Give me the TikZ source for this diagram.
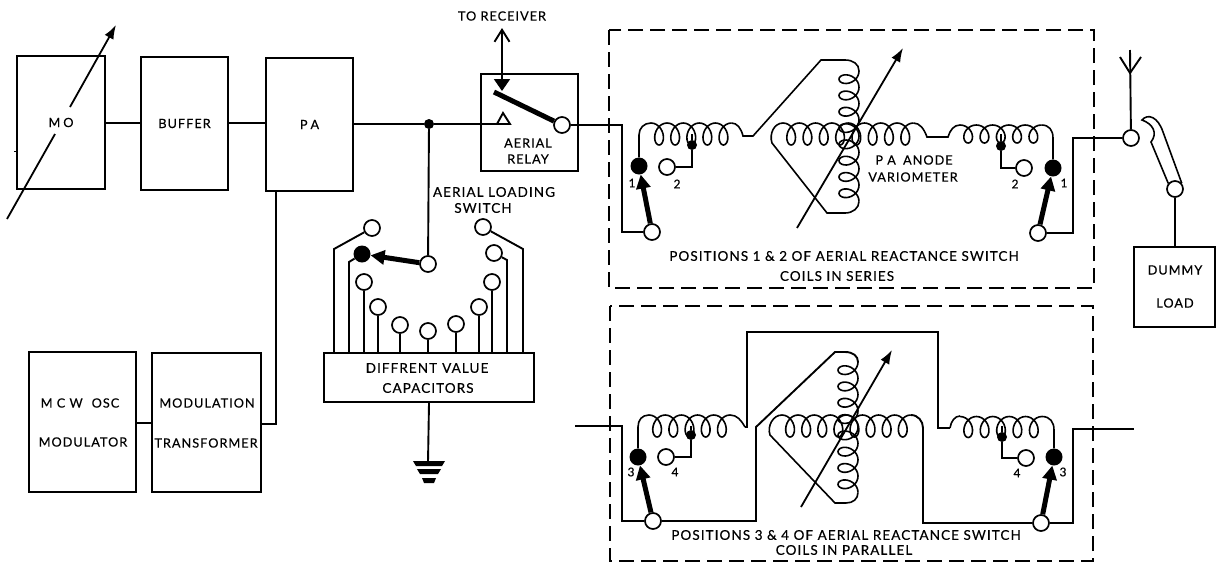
\documentclass[tikz,border=0pt]{standalone}
\usepackage{fontspec}
\setmainfont[LetterSpace=8,FakeBold=0.35]{Lato}
\usetikzlibrary{arrows.meta}
\tikzset{
  wire/.style={line width=1.9pt,line join=miter},
  coilline/.style={line width=1.6pt},
  blk/.style={draw,line width=2pt,inner sep=0pt,align=center,fill=white},
  term/.style={circle,draw,line width=1.7pt,fill=white,minimum size=16pt,inner sep=0pt},
  bdot/.style={circle,fill=black,minimum size=17pt,inner sep=0pt},
  sdot/.style={circle,fill=black,minimum size=10pt,inner sep=0pt},
  lbl/.style={inner sep=0pt,align=center,font=\fontsize{13.5}{13.5}\selectfont},
  lblsm/.style={inner sep=0pt,align=center,font=\fontsize{12.7}{12.7}\selectfont},
  num/.style={inner sep=0pt,font=\fontsize{12}{12}\selectfont},
  dashbox/.style={line width=1.8pt,dash pattern=on 15pt off 7pt},
  thick arrow/.style={line width=5pt,-{Triangle[length=14pt,width=14pt]}},
  var arrow/.style={line width=1.8pt,-{Latex[length=14pt,width=10pt]}},
}
\newcommand{\coilH}[5]{% x0, yc, half height, n, pitch
  \pgfmathsetmacro{\nsamp}{int(#4*24+1)}
  \draw[coilline] plot[domain=0:#4,samples=\nsamp] ({#1+#5*\x+8*sin(360*\x)},{#2-#3*cos(360*\x)});}
\newcommand{\coilV}[5]{% xc, y0, half width, n, pitch
  \pgfmathsetmacro{\nsamp}{int(#4*24+1)}
  \draw[coilline] plot[domain=0:#4,samples=\nsamp] ({#1+#3*cos(360*\x)},{#2+#5*\x+8*sin(360*\x)});}
\begin{document}
\begin{tikzpicture}[x=1pt,y=-1pt]
\path[use as bounding box,fill=white] (0,0) rectangle (1218,563);
% ---- left blocks
\node[blk,minimum width=88pt,minimum height=133pt,font=\fontsize{12.7}{12.7}\selectfont] (mo) at (61,122.5) {M\hspace{3pt}O};
\node[blk,minimum width=87pt,minimum height=133pt,font=\fontsize{12.7}{12.7}\selectfont] (buffer) at (184.5,123.5) {BUFFER};
\node[blk,minimum width=87pt,minimum height=133pt,font=\fontsize{12.7}{12.7}\selectfont] (pa) at (309.5,124.5) {P\hspace{3pt}A};
\node[blk,minimum width=107pt,minimum height=140pt] (mcw) at (82.5,422) {};
\node[blk,minimum width=109pt,minimum height=139pt] (mt) at (206.5,422.5) {};
\node[lblsm] (mcw1) at (80,403) {M C W\hspace{9pt}OSC};
\node[lblsm] (mcw2) at (83,442) {MODULATOR};
\node[lblsm] (mt1) at (207,403) {MODULATION};
\node[lblsm] (mt2) at (206,443) {TRANSFORMER};
\draw[wire] (mo.east|-0,123) -- (buffer.west|-0,123);
\draw[wire] (buffer.east|-0,123) -- (pa.west|-0,123);
\draw[wire] (mcw.east|-0,423) -- (mt.west|-0,423);
\coordinate (pabot) at (276,191);
\coordinate (mtout) at (261,424);
\draw[wire] (pabot) -- (276,424) -- (mtout);
% MO tuning arrow
\coordinate (moa) at (7,219); \coordinate (mob) at (55,134);
\coordinate (moc) at (70,107); \coordinate (mod) at (116,25);
\draw[line width=1.8pt] (moa) -- (mob);
\draw[var arrow] (moc) -- (mod);
\draw[line width=1pt] (14,151) -- (18,151);
% ---- junction and relay
\node[sdot] (junc) at (429,124) {};
\draw[wire] (pa.east|-0,124) -- (junc);
\node[draw,line width=2pt,minimum width=97pt,minimum height=97pt,inner sep=0pt] (relay) at (529.5,122.5) {};
\node[lblsm] (rel1) at (528,143) {AERIAL};
\node[lblsm] (rel2) at (528,159) {RELAY};
\coordinate (tria) at (497,124);
\draw[wire] (junc) -- (tria) -- (503,113) -- (510,124) -- cycle;
\node[term] (relc) at (562,125) {};
\coordinate (relt) at (494,92);
\draw[line width=5pt] (relt) -- (relc);
\node[lblsm] (torx) at (502,16) {TO RECEIVER};
\coordinate (rxtop) at (502,28);
\coordinate (rxbot) at (502,91);
\draw[wire,{Straight Barb[length=12pt,width=15pt]}-{Triangle[length=12pt,width=16pt]}] (rxtop) -- (rxbot);
% ---- aerial loading switch
\node[draw,line width=2pt,minimum width=210pt,minimum height=49pt,inner sep=0pt,align=center] (caps) at (429,377.5) {};
\node[lbl] (caps1) at (427,368) {DIFFRENT\hspace{5pt}VALUE};
\node[lbl] (caps2) at (428,388) {CAPACITORS};
\node[lbl] (als1) at (494,192) {AERIAL LOADING};
\node[lbl] (als2) at (483,208) {SWITCH};
\node[term] (sw) at (428,264) {};
\draw[wire] (junc) -- (sw);
\node[bdot] (sa) at (362,254) {};
\draw[thick arrow] (sw) -- (sa);
\node[term] (c1) at (372,228) {};
\node[term] (c3) at (364,282) {};
\node[term] (c4) at (378,307) {};
\node[term] (c5) at (400,325) {};
\node[term] (c6) at (428,331) {};
\node[term] (c7) at (456,324) {};
\node[term] (c8) at (479,307) {};
\node[term] (c9) at (492,282) {};
\node[term] (c10) at (494,253) {};
\node[term] (c11) at (483,227) {};
\draw[wire] (c1) -- (334,249) -- (334,353);
\draw[wire] (sa) -- (349,262) -- (349,353);
\foreach \n in {c3,c4,c5,c6,c7,c8,c9} \draw[wire] (\n) -- (\n|-caps.north);
\draw[wire] (c10) -- (507,260) -- (507,353);
\draw[wire] (c11) -- (523,249) -- (523,353);
\coordinate (gnd) at (428,462);
\draw[wire] (caps.south) -- (gnd);
\fill (413,461) -- (445,461) -- (442,466) -- (416,466) -- cycle;
\fill (417,469) -- (441,469) -- (438,474) -- (420,474) -- cycle;
\fill (422,478) -- (436,478) -- (434,483) -- (424,483) -- cycle;
% ---- dashed boxes
\draw[dashbox] (609,30) rectangle (1094,288);
\draw[dashbox] (610,306) rectangle (1093,561);
% ---- top variometer
\node[bdot] (t1l) at (639,166) {};
\node[term] (t2l) at (667,167) {};
\node[sdot] (t2lj) at (692,145) {};
\node[term] (tsl) at (652,232) {};
\node[bdot] (t1r) at (1053,168) {};
\node[term] (t2r) at (1024,168) {};
\node[sdot] (t2rj) at (1001,146) {};
\node[term] (tsr) at (1038,233) {};
\node[term] (ant) at (1131,138) {};
\draw[wire] (relc) -- (622,125) -- (622,232) -- (tsl);
\draw[thick arrow] (tsl) -- (t1l);
\draw[thick arrow] (tsr) -- (t1r);
\draw[wire] (t2l) -- (692,167) -- (t2lj);
\draw[wire] (t2lj) -- (692,134);
\draw[wire] (t2r) -- (1001,168) -- (t2rj);
\draw[wire] (t2rj) -- (1001,134);
\draw[wire] (tsr) -- (1073,233) -- (1073,138) -- (ant);
\draw[coilline] (t1l) -- (639,135) .. controls (639,128) and (644,123) .. (651,123);
\coilH{651}{134}{11}{5}{16.1}
\draw[coilline] (731.5,123) .. controls (737,123) and (741,128) .. (743,136) -- (753,136) -- (821,60) -- (845,60) .. controls (853,60) and (859,64) .. (859,71);
\coilV{849}{71}{10}{8}{16.3}
\draw[coilline] (859,201.4) .. controls (859,208) and (853,213) .. (845,213) -- (827,213) -- (772,143) .. controls (769,134) and (774,123) .. (783,123);
\coilH{783}{134}{11}{8}{16.3}
\draw[coilline] (913.4,123) .. controls (920,123) and (924,129) .. (927,137) -- (948,137) .. controls (950,130) and (954,125) .. (960,125);
\coilH{960}{134}{9}{5}{16.3}
\draw[coilline] (1041.5,125) .. controls (1049,125) and (1053,130) .. (1053,138) -- (t1r);
\coordinate (tv1) at (797,228); \coordinate (tv2) at (903,48);
\draw[var arrow] (tv1) -- (tv2);
\node[num] (n1a) at (632,183) {1};
\node[num] (n2a) at (677,184) {2};
\node[num] (n2b) at (1015,184) {2};
\node[num] (n1b) at (1064,183) {1};
\node[lblsm] (pan1) at (914,160) {P A\hspace{3pt} ANODE};
\node[lblsm] (pan2) at (913,177) {VARIOMETER};
\node[lbl] (pos1) at (844,256) {POSITIONS 1 \& 2 OF AERIAL REACTANCE SWITCH};
\node[lbl] (pos1b) at (837,276) {COILS IN SERIES};
% ---- antenna and dummy load
\coordinate (anttop) at (1130,50);
\coordinate (antv) at (1130,73);
\draw[wire] (ant) -- (anttop);
\draw[wire] (1120,57) -- (antv) -- (1141,57);
\node[term] (dsw) at (1175,189) {};
\node[blk,minimum width=81pt,minimum height=80pt] (dummy) at (1174.5,287) {};
\node[lblsm] (dum1) at (1175,270) {DUMMY};
\node[lblsm] (dum2) at (1175,303) {LOAD};
\draw[wire] (dsw) -- (dummy.north-|dsw);
\draw[coilline] (dsw.140) -- (1151,142) .. controls (1158,133) and (1153,124) .. (1142,120) .. controls (1148,113) and (1158,117) .. (1163,132) -- (dsw.40);
% ---- bottom variometer
\node[bdot] (b3l) at (638,457) {};
\node[term] (b4l) at (666,457) {};
\node[sdot] (b4lj) at (691,435) {};
\node[term] (bsl) at (653,521) {};
\node[bdot] (b3r) at (1054,457) {};
\node[term] (b4r) at (1026,458) {};
\node[sdot] (b4rj) at (1002,437) {};
\node[term] (bsr) at (1041,523) {};
\coordinate (bin) at (575,426);
\coordinate (bout) at (1134,429);
\draw[wire] (bin) -- (622,426) -- (622,521) -- (bsl);
\draw[wire] (bsl) -- (756,521) -- (756,427) -- (835,352) -- (845,352) .. controls (853,352) and (858,356) .. (858,362);
\coilV{848}{362}{10}{8}{16.3}
\draw[coilline] (858,492.4) .. controls (858,499) and (853,503) .. (846,503) -- (835,503) -- (770,435) .. controls (767,426) and (773,415) .. (782,415);
\coilH{782}{426}{11}{8}{16.1}
\draw[wire] (910.8,415) .. controls (918,415) and (923,421) .. (923,428) -- (923,523) -- (bsr);
\draw[wire] (bsr) -- (1073,523) -- (1073,429) -- (bout);
\draw[thick arrow] (bsl) -- (b3l);
\draw[thick arrow] (bsr) -- (b3r);
\draw[wire] (b4l) -- (691,457) -- (b4lj);
\draw[wire] (b4lj) -- (691,426);
\draw[wire] (b4r) -- (1002,458) -- (b4rj);
\draw[wire] (b4rj) -- (1002,426);
\draw[coilline] (b3l) -- (638,427) .. controls (638,420) and (642,415) .. (649,415);
\coilH{649}{426}{11}{5}{16.2}
\draw[coilline] (730,415) .. controls (737,415) and (741,420) .. (745,427);
\draw[wire] (745,427) -- (747,427) -- (747,332) -- (938,332) -- (938,428) -- (950,428);
\draw[coilline] (950,428) .. controls (951,421) and (955,416) .. (960,416);
\coilH{960}{427}{10.5}{5}{16.4}
\draw[coilline] (1042,416.5) .. controls (1050,416.5) and (1054,422) .. (1054,430) -- (b3r);
\coordinate (bv1) at (801,507); \coordinate (bv2) at (892,350);
\draw[var arrow] (bv1) -- (bv2);
\node[num] (n3a) at (631,472) {3};
\node[num] (n4a) at (675,472) {4};
\node[num] (n4b) at (1017,473) {4};
\node[num] (n3b) at (1063,472) {3};
\node[lbl] (pos3) at (846,535) {POSITIONS 3 \& 4 OF AERIAL REACTANCE SWITCH};
\node[lbl] (pos3b) at (844,550) {COILS IN PARALLEL};
\end{tikzpicture}
\end{document}
